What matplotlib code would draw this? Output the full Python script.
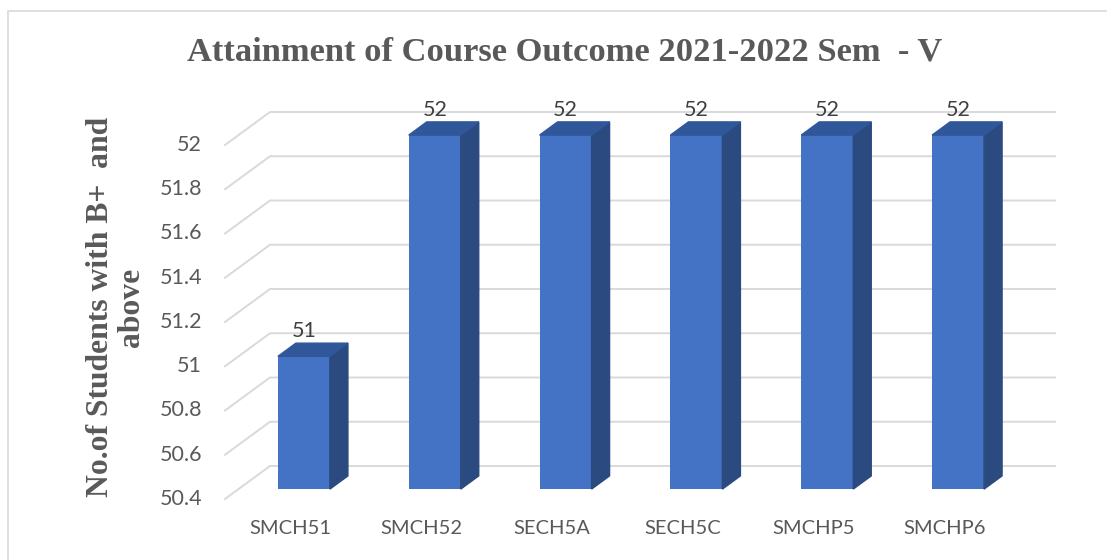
import matplotlib
matplotlib.use("Agg")
from matplotlib import pyplot as plt
from matplotlib.patches import Polygon, Rectangle
import numpy as np

courses = ["SMCH51", "SMCH52", "SECH5A", "SECH5C", "SMCHP5", "SMCHP6"]
students = [51, 52, 52, 52, 52, 52]
yticks = [50.4, 50.6, 50.8, 51, 51.2, 51.4, 51.6, 51.8, 52]

W, H = 1107, 560
fig = plt.figure(figsize=(W / 100, H / 100), dpi=100)

# front plane of the 3d box in pixels
x0, x1 = 225, 1010
ybot, ytop = 499, 145
ax = fig.add_axes([x0 / W, (H - ybot) / H, (x1 - x0) / W, (ybot - ytop) / H])
ymin, ymax = 50.4, 52.0
ax.set_xlim(-0.5, len(courses) - 0.5)
ax.set_ylim(ymin, ymax)
ax.axis("off")

# depth of the box (45 px right, 33 px up) in data units
px_x = len(courses) / (x1 - x0)
px_y = (ymax - ymin) / (ybot - ytop)
ddx, ddy = 45 * px_x, 33 * px_y

grid_c = "#d9d9d9"
txt_c = "#595959"
for v in yticks:
    ax.plot([-0.5, -0.5 + ddx, len(courses) - 0.5 + ddx], [v, v + ddy, v + ddy],
            color=grid_c, lw=1.4, clip_on=False, zorder=1)
    ax.text(-0.5 - 23 * px_x, v, f"{v:g}", ha="right", va="center",
            fontsize=15.5, color=txt_c, family="Lato")

x = np.arange(len(courses))
bw = 52 * px_x
f0, f1 = 0.3, 0.7
bx = x + f0 * ddx
base = ymin + f0 * ddy
tops = np.array(students) + f0 * ddy
ax.bar(bx, tops - base, bottom=base, width=bw, color="#4472c4", zorder=3,
       clip_on=False)
sx, sy = (f1 - f0) * ddx, (f1 - f0) * ddy
for xi, t in zip(bx, tops):
    xr, xl = xi + bw / 2, xi - bw / 2
    side = Polygon([(xr, base), (xr, t), (xr + sx, t + sy), (xr + sx, base + sy)],
                   closed=True, color="#2b4a7f", zorder=3, clip_on=False)
    top = Polygon([(xl, t), (xr, t), (xr + sx, t + sy), (xl + sx, t + sy)],
                  closed=True, color="#30579a", zorder=3, clip_on=False)
    ax.add_patch(side)
    ax.add_patch(top)

for xi, t, s in zip(bx, tops, students):
    ax.text(xi, t + sy + 2 * px_y, str(s), ha="center", va="bottom",
            fontsize=15.5, color="#404040", family="Lato", zorder=4)

for xi, c in zip(x, courses):
    ax.text(xi, ymin - 29 * px_y, c, ha="center", va="center",
            fontsize=14.5, color=txt_c, family="Lato")

fig.text(565 / W, 1 - 52 / H, "Attainment of Course Outcome 2021-2022 Sem  - V",
         ha="center", va="center", fontsize=24.8, fontweight="bold",
         color=txt_c, family="Liberation Serif")
fig.text(116 / W, 1 - 307 / H, "No.of Students with B+  and\nabove",
         rotation=90, ha="center", va="center", fontsize=22.8, fontweight="bold",
         color=txt_c, family="Liberation Serif", linespacing=1.1)

# chart frame
fig.patches.append(Rectangle((8 / W, -0.1), 1.2, (H - 11) / H + 0.1,
                             transform=fig.transFigure, fill=False,
                             edgecolor="#d9d9d9", lw=1.2))

fig.savefig("out.png", dpi=100)
